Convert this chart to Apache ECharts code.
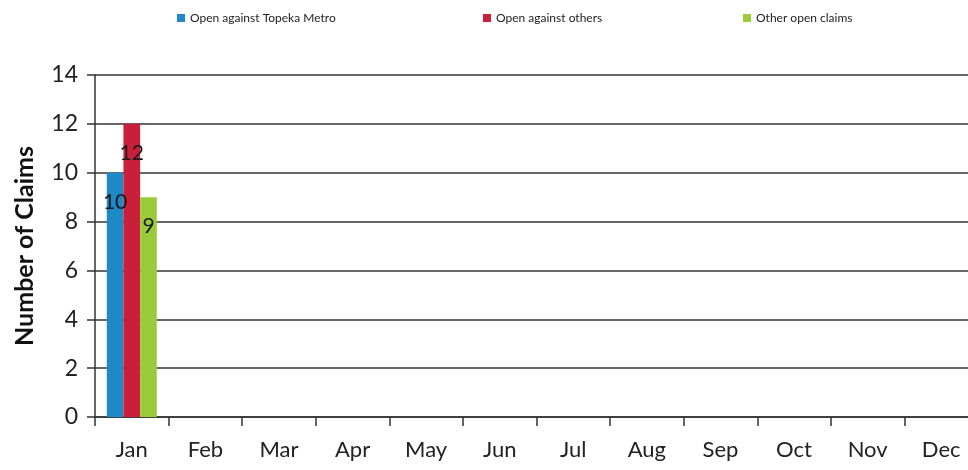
<!DOCTYPE html>
<html><head><meta charset="utf-8">
<script src="https://cdn.jsdelivr.net/npm/echarts@6/dist/echarts.min.js"></script>
<style>html,body{margin:0;padding:0;background:#fff}#c{width:968px;height:470px}</style>
</head><body><div id="c"></div>
<script>
const categories = ['Jan','Feb','Mar','Apr','May','Jun','Jul','Aug','Sep','Oct','Nov','Dec'];
const seriesNames = ['Open against Topeka Metro','Open against others','Other open claims'];
const topekaMetro = [10, null, null, null, null, null, null, null, null, null, null, null];
const others = [12, null, null, null, null, null, null, null, null, null, null, null];
const otherOpen = [9, null, null, null, null, null, null, null, null, null, null, null];
const colors = ['#1f88c6','#c91f3b','#9bcb3b'];
const font = 'Lato, "Open Sans", sans-serif';
const chart = echarts.init(document.getElementById('c'));
const lbl = {show:true, position:'insideTop', distance:19, color:'#1a1a1a', fontSize:21, fontFamily:font};
const legendX = [172, 478, 738];
chart.setOption({
  animation:false,
  backgroundColor:'#fff',
  legend: seriesNames.map((n,i)=>({data:[n], left:legendX[i], top:7, itemWidth:8, itemHeight:8, icon:'rect', textStyle:{fontSize:12, color:'#222', fontFamily:font}, itemGap:3, selectedMode:false})),
  grid:{left:95, width:883, top:75, bottom:53, outerBoundsMode:'none', containLabel:false},
  xAxis:{type:'category', data:categories,
    axisLine:{lineStyle:{color:'#333', width:1.5}},
    axisTick:{show:true, length:9, lineStyle:{color:'#333', width:1.5}},
    axisLabel:{fontSize:22, color:'#222', margin:22, fontFamily:font}},
  yAxis:{type:'value', min:0, max:14, interval:2,
    name:'Number of Claims', nameLocation:'middle', nameGap:58,
    nameTextStyle:{fontSize:25, fontWeight:'bold', color:'#111', fontFamily:font},
    axisLine:{show:true, lineStyle:{color:'#333', width:1.5}},
    axisTick:{show:true, length:8, lineStyle:{color:'#333', width:1.5}},
    axisLabel:{fontSize:23, color:'#222', margin:17, fontFamily:font},
    splitLine:{lineStyle:{color:'#333', width:1.5}}},
  series:[
    {name:seriesNames[0], type:'bar', data:topekaMetro, barGap:'0%', barCategoryGap:'32%', itemStyle:{color:colors[0]}, label:lbl},
    {name:seriesNames[1], type:'bar', data:others, barGap:'0%', barCategoryGap:'32%', itemStyle:{color:colors[1]}, label:lbl},
    {name:seriesNames[2], type:'bar', data:otherOpen, barGap:'0%', barCategoryGap:'32%', itemStyle:{color:colors[2]}, label:lbl}
  ]
});
</script></body></html>
